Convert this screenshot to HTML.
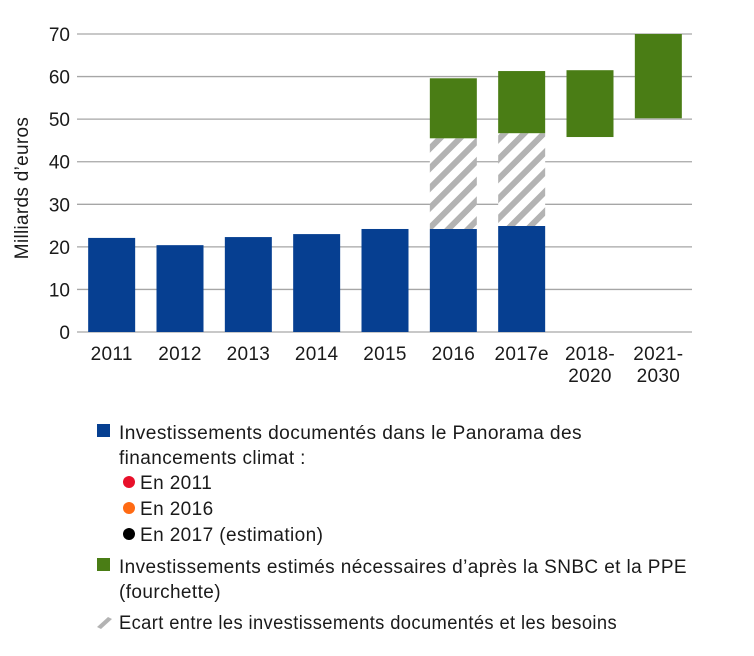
<!DOCTYPE html>
<html><head><meta charset="utf-8"><style>
body{margin:0;background:#fff;font-family:"Liberation Sans",Arial,sans-serif;}
svg text{font-family:"Liberation Sans",Arial,sans-serif;fill:#1a1a1a}
</style></head><body>
<svg id="chart" width="754" height="651" xmlns="http://www.w3.org/2000/svg">
<defs>
<pattern id="hatch" patternUnits="userSpaceOnUse" width="14" height="14" patternTransform="rotate(45)">
<rect width="14" height="14" fill="#fff"/><rect x="0" y="0" width="6" height="14" fill="#b3b3b3"/>
</pattern>
</defs>
<g id="grid"></g>
<g id="bars"></g>
<g id="xlabels"></g>
<text transform="translate(28,188) rotate(-90)" text-anchor="middle" font-size="19" letter-spacing="0.3">Milliards d’euros</text>
<g font-size="19" letter-spacing="0.4">
<rect x="97" y="424" width="13" height="13" fill="#063f91"/>
<text x="119" y="439" textLength="463" lengthAdjust="spacingAndGlyphs">Investissements documentés dans le Panorama des</text>
<text x="119" y="464">financements climat :</text>
<circle cx="129" cy="482" r="6" fill="#e8102a"/>
<text x="140" y="489">En 2011</text>
<circle cx="129" cy="508" r="6" fill="#ff6a13"/>
<text x="140" y="515">En 2016</text>
<circle cx="129" cy="534" r="6" fill="#000"/>
<text x="140" y="541">En 2017 (estimation)</text>
<rect x="97" y="558" width="13" height="13" fill="#4a7d15"/>
<text x="119" y="573" textLength="568" lengthAdjust="spacingAndGlyphs">Investissements estimés nécessaires d’après la SNBC et la PPE</text>
<text x="119" y="598">(fourchette)</text>
<path d="M97 627 L108 617 L112 619 L101 629 Z" fill="#b3b3b3"/>
<text x="119" y="629" textLength="498" lengthAdjust="spacingAndGlyphs">Ecart entre les investissements documentés et les besoins</text>
</g>
</svg>
<script>
const categories=["2011","2012","2013","2014","2015","2016","2017e","2018-2020","2021-2030"];
const documented=[22.1,20.4,22.3,23.0,24.2,24.2,24.9,null,null];
const gapTop=[null,null,null,null,null,45.5,46.7,null,null];
const neededLow=[null,null,null,null,null,45.5,46.7,45.8,50.2];
const neededHigh=[null,null,null,null,null,59.6,61.3,61.5,70];
const yTicks=[0,10,20,30,40,50,60,70];
const NS="http://www.w3.org/2000/svg";
const x0=77,x1=692,yBase=332,pxPer=4.257;
const slotW=(x1-x0)/categories.length, barW=47;
function y(v){return yBase-v*pxPer;}
function bx(i){return x0+slotW*i+(slotW-barW)/2+0.5;}
function mk(tag,attrs,parent){const e=document.createElementNS(NS,tag);for(const k in attrs)e.setAttribute(k,attrs[k]);parent.appendChild(e);return e;}
const grid=document.getElementById('grid'),bars=document.getElementById('bars'),xl=document.getElementById('xlabels');
yTicks.forEach(t=>{
  const l=mk('line',{x1:x0,x2:x1,y1:y(t),y2:y(t),stroke:'#a6a6a6','stroke-width':1.3},grid);
  
  
  const tx=mk('text',{x:70,y:y(t)+7,'text-anchor':'end','font-size':19},grid);
  tx.textContent=t;
  
  
});
categories.forEach((c,i)=>{
  const x=bx(i);
  if(documented[i]!=null){
    const r=mk('rect',{x:x,y:y(documented[i]),width:barW,height:y(0)-y(documented[i]),fill:'#063f91'},bars);
    
    
  }
  if(gapTop[i]!=null){
    const r=mk('rect',{x:x,y:y(gapTop[i]),width:barW,height:y(documented[i])-y(gapTop[i]),fill:'url(#hatch)'},bars);
    
    
  }
  if(neededHigh[i]!=null){
    const r=mk('rect',{x:x,y:y(neededHigh[i]),width:barW,height:y(neededLow[i])-y(neededHigh[i]),fill:'#4a7d15'},bars);
    
    
  }
  const parts=c.includes('-')?[c.split('-')[0]+'-',c.split('-')[1]]:[c];
  parts.forEach((p,j)=>{
    const t=mk('text',{x:x+barW/2,y:360+j*22,'text-anchor':'middle','font-size':19,'letter-spacing':0.3},xl);
    t.textContent=p;
    
    
  });
});
</script>
</body></html>
